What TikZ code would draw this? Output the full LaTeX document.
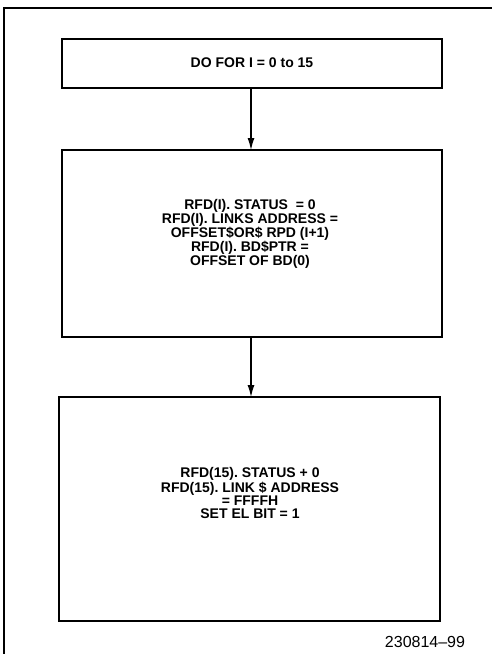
\documentclass[tikz,border=0pt]{standalone}
\usepackage{fontspec}
\setmainfont{Liberation Sans}
\usetikzlibrary{arrows.meta}
\frenchspacing
\begin{document}
\begin{tikzpicture}[x=1pt,y=-1pt,
  box/.style={draw,line width=1.4pt},
  txt/.style={font=\bfseries\fontsize{14}{13}\selectfont,align=center,inner sep=0pt},
  conn/.style={line width=1.2pt,-{Latex[length=12pt,width=7pt]}}]
\useasboundingbox (0,0) rectangle (492,654);
\draw[line width=1.2pt] (4,654) -- (4,8) -- (492,8);
\draw[box] (62,39) rectangle (442,88);
\node[txt] (t1) at (252,63) {DO FOR I = 0 to 15};
\draw[box] (62,150) rectangle (442,337);
\node[txt] (t2) at (250,234) {RFD(I). STATUS \ = 0\\RFD(I). LINKS ADDRESS =\\OFFSET\$OR\$ RPD (I+1)\\RFD(I). BD\$PTR =\\OFFSET OF BD(0)};
\draw[box] (59,397) rectangle (440,621);
\node[txt] (t3) at (250,493) {RFD(15). STATUS + 0\\RFD(15). LINK \$ ADDRESS\\= FFFFH\\SET EL BIT = 1};
\coordinate (a1) at (251,88);
\coordinate (b1) at (251,150);
\coordinate (a2) at (251,337);
\coordinate (b2) at (251,397);
\draw[conn] (a1) -- (b1);
\draw[conn] (a2) -- (b2);
\node[font=\fontsize{16}{18}\selectfont,inner sep=0pt] (lab) at (425,642) {230814–99};
\end{tikzpicture}
\end{document}
